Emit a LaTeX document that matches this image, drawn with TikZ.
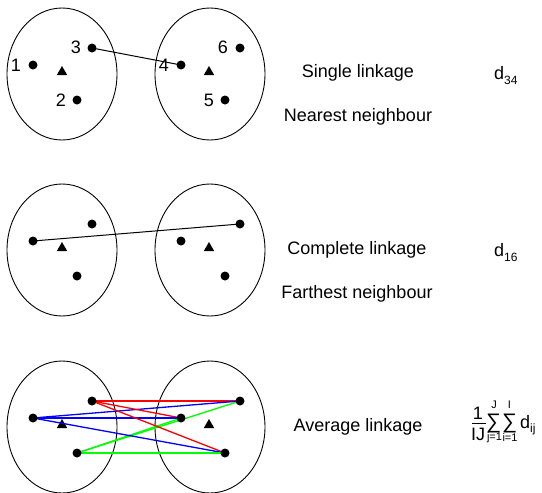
\documentclass[tikz,border=0pt]{standalone}
\usepackage{fontspec}
\setmainfont{Liberation Sans}
\usetikzlibrary{shapes.geometric}
\begin{document}
\begin{tikzpicture}[x=1pt,y=-1pt,
  every node/.style={font=\fontsize{18}{21}\selectfont},
  ell/.style={draw,ellipse,line width=0.9pt,minimum width=110pt,minimum height=132pt,inner sep=0pt},
  dot/.style={circle,fill=black,minimum size=9pt,inner sep=0pt},
  tri/.style={regular polygon,regular polygon sides=3,fill=black,minimum size=12pt,inner sep=0pt},
  link/.style={line width=1pt},
  clink/.style={line width=1.3pt},
  small/.style={font=\fontsize{11}{12}\selectfont,inner sep=0pt},
  bigsum/.style={font=\fontsize{21}{21}\selectfont,inner sep=0pt,text height=14pt,text depth=0pt}]
\useasboundingbox (0,0) rectangle (542,493);
\foreach \r/\o in {1/0,2/176,3/353}{
  \node[ell] (L\r) at (62,74+\o) {};
  \node[ell] (R\r) at (210,74+\o) {};
  \node[tri] (tl\r) at (62,72+\o) {};
  \node[tri] (tr\r) at (209,72+\o) {};
  \coordinate (p1\r) at (33,65+\o);
  \coordinate (p2\r) at (77,100+\o);
  \coordinate (p3\r) at (92,48+\o);
  \coordinate (p4\r) at (181,65+\o);
  \coordinate (p5\r) at (225,100+\o);
  \coordinate (p6\r) at (240,48+\o);
}
% row 1 link
\draw[link] (p31) -- (p41);
% row 2 link
\draw[link] (p12) -- (p62);
% row 3 links
\foreach \t in {6,4,5}{
  \draw[clink,red] (p33) -- (p\t3);
  \draw[clink,blue] (p13) -- (p\t3);
  \draw[clink,green] (p23) -- (p\t3);
}
\foreach \r in {1,2,3}{
  \foreach \k in {1,...,6}{
    \node[dot] (d\k\r) at (p\k\r) {};
  }
}
% number labels
\node (n1) at (16,65) {1};
\node (n2) at (61,100) {2};
\node (n3) at (76,47) {3};
\node (n4) at (164,65) {4};
\node (n5) at (209,100) {5};
\node (n6) at (223,47) {6};
% texts
\node (s1) at (358,73) {Single linkage};
\node (s2) at (358,117) {Nearest neighbour};
\node (c1) at (357,250) {Complete linkage};
\node (c2) at (357,294) {Farthest neighbour};
\node (a1) at (358,427) {Average linkage};
\node[anchor=base west,inner sep=0pt] (d34) at (494,79.5) {d\raisebox{-4.5pt}{\fontsize{12}{13}\selectfont 34}};
\node[anchor=base west,inner sep=0pt] (d16) at (494,256.5) {d\raisebox{-4.5pt}{\fontsize{12}{13}\selectfont 16}};
% formula
\node[inner sep=0pt] (one) at (478,413) {1};
\coordinate (barL) at (472,423.5);
\coordinate (barR) at (485.5,423.5);
\draw[line width=0.8pt] (barL) -- (barR);
\node[inner sep=0pt] (IJ) at (478,434) {IJ};
\node[bigsum,anchor=base] (S1) at (493.5,428) {∑};
\node[bigsum,anchor=base] (S2) at (509.5,428) {∑};
\node[small] (Jt) at (494,404.5) {J};
\node[small] (jb) at (494.5,437.5) {j=1};
\node[small] (It) at (509.5,404.5) {I};
\node[small] (ib) at (510,437.5) {i=1};
\node[anchor=base west,inner sep=0pt] (dij) at (520,428) {d\raisebox{-4.5pt}{\fontsize{12}{13}\selectfont ij}};
\end{tikzpicture}
\end{document}
